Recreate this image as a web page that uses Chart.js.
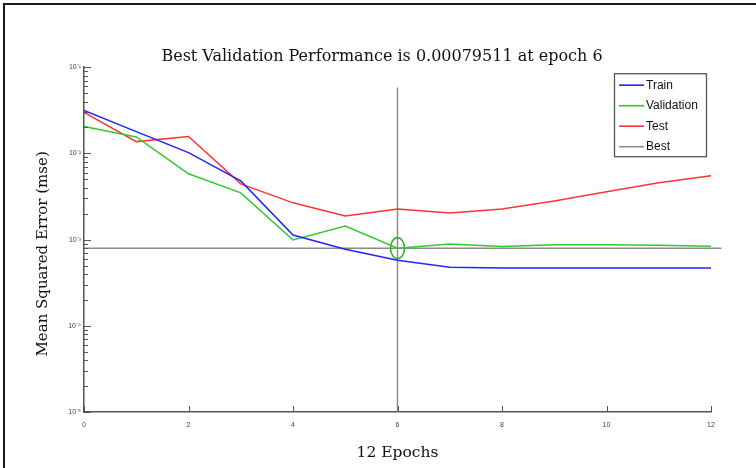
<!DOCTYPE html>
<html><head><meta charset="utf-8">
<script src="https://cdn.jsdelivr.net/npm/chart.js@4.4.0/dist/chart.umd.min.js"></script>
<style>
html,body{margin:0;padding:0;background:#fff;overflow:hidden;}
#wrap{position:relative;width:756px;height:468px;}
#frame{position:absolute;left:3px;top:3px;right:-10px;bottom:-10px;border-left:2px solid #1a1a1a;border-top:2px solid #1a1a1a;pointer-events:none;}
canvas{display:block}
</style></head><body>
<div id="wrap"><canvas id="c" width="756" height="468"></canvas><div id="frame"></div></div>
<script>
// ---- data ----
const epochs        = [0, 1, 2, 3, 4, 5, 6, 7, 8, 9, 10, 11, 12];
const trainMSE      = [0.0316, 0.0179, 0.0102, 0.0048, 0.00113, 0.000774, 0.000577, 0.000478, 0.000467, 0.000467, 0.000467, 0.000467, 0.000467];
const validationMSE = [0.0205, 0.0155, 0.0058, 0.00348, 0.00099, 0.00144, 0.00079511, 0.000887, 0.000832, 0.00087, 0.00087, 0.00086, 0.00084];
const testMSE       = [0.0299, 0.0137, 0.0157, 0.00443, 0.00267, 0.00188, 0.00227, 0.00204, 0.00227, 0.00281, 0.00358, 0.00456, 0.0055];
const bestEpoch = 6;
const bestPerf = 0.00079511;
const bestLineEnds = [0, 12.2];      // epochs spanned by the horizontal "Best" line
const bestVLineEnds = [1e-5, 0.058]; // mse spanned by the vertical "Best" line
const yMajorTicks = [1e-5, 1e-4, 1e-3, 1e-2, 1e-1];
const yTickLabels = ['10\u207B\u2075', '10\u207B\u2074', '10\u207B\u00B3', '10\u207B\u00B2', '10\u207B\u00B9'];
const xTicks = [0, 2, 4, 6, 8, 10, 12];
const seriesLabels = ['Train', 'Validation', 'Test', 'Best'];
const seriesColors = ['#2323ff', '#2ecb2e', '#ff3434', '#8a8a8a'];

const toPts = arr => arr.map((v, i) => ({x: epochs[i], y: v}));

// ellipse marker around the best validation point
const ell = document.createElement('canvas');
ell.width = 17; ell.height = 24;
(function(){const g = ell.getContext('2d'); g.strokeStyle = '#2aa52a'; g.lineWidth = 1.5;
  g.beginPath(); g.ellipse(8.5, 12, 7, 10.5, 0, 0, Math.PI*2); g.stroke();})();

const yTickValues = [];
yMajorTicks.forEach((m, i) => {
  if (i < yMajorTicks.length - 1) { for (let k = 1; k <= 9; k++) yTickValues.push({value: m*k, major: k === 1}); }
  else yTickValues.push({value: m, major: true});
});

const inwardTicks = {
  id: 'inwardTicks',
  afterDraw(chart) {
    const ctx = chart.ctx, a = chart.chartArea, ys = chart.scales.y, xs = chart.scales.x;
    ctx.save(); ctx.strokeStyle = '#555'; ctx.lineWidth = 1;
    ctx.beginPath();
    yTickValues.forEach(t => {
      const p = Math.round(ys.getPixelForValue(t.value)) + 0.5;
      ctx.moveTo(a.left, p); ctx.lineTo(a.left + (t.major ? 7 : 4), p);
    });
    xTicks.forEach(v => {
      const p = Math.round(xs.getPixelForValue(v)) + 0.5;
      ctx.moveTo(p, a.bottom); ctx.lineTo(p, a.bottom - 6);
    });
    ctx.stroke();
    // legend box
    const w = 92, h = 83, L = a.right - 5 - w, T = a.top + 6;
    ctx.fillStyle = '#fff'; ctx.fillRect(L, T, w, h);
    ctx.strokeStyle = '#555'; ctx.lineWidth = 1.3; ctx.strokeRect(L + 0.5, T + 0.5, w, h);
    ctx.font = '12px "Liberation Sans", Arial, sans-serif'; ctx.textBaseline = 'middle'; ctx.fillStyle = '#111';
    seriesLabels.forEach((lab, i) => {
      const yy = T + 12 + i * 20.5;
      ctx.strokeStyle = seriesColors[i]; ctx.lineWidth = 1.6;
      ctx.beginPath(); ctx.moveTo(L + 5, yy); ctx.lineTo(L + 30, yy); ctx.stroke();
      ctx.fillText(lab, L + 32, yy);
    });
    ctx.restore();
  }
};

const serif = '"DejaVu Serif", serif';
new Chart(document.getElementById('c'), {
  type: 'line',
  data: {
    datasets: [
      {label: seriesLabels[0], data: toPts(trainMSE), borderColor: seriesColors[0], borderWidth: 1.5, pointRadius: 0, tension: 0},
      {label: seriesLabels[1], data: toPts(validationMSE), borderColor: seriesColors[1], borderWidth: 1.5, pointRadius: 0, tension: 0},
      {label: seriesLabels[2], data: toPts(testMSE), borderColor: seriesColors[2], borderWidth: 1.5, pointRadius: 0, tension: 0},
      {label: seriesLabels[3], data: bestLineEnds.map(x => ({x, y: bestPerf})), borderColor: seriesColors[3], borderWidth: 1.4, pointRadius: 0, clip: false, order: 5},
      {label: 'best-v', data: bestVLineEnds.map(y => ({x: bestEpoch, y})), borderColor: seriesColors[3], borderWidth: 1.4, pointRadius: 0, order: 5},
      {label: 'best-pt', data: [{x: bestEpoch, y: bestPerf}], showLine: false, pointStyle: ell, pointRadius: 10, order: 0}
    ]
  },
  options: {
    responsive: false, animation: false,
    layout: {padding: {left: 8, right: 0, top: 0, bottom: 0}},
    plugins: {
      legend: {display: false}, tooltip: {enabled: false},
      title: {display: true, text: 'Best Validation Performance is ' + bestPerf + ' at epoch ' + bestEpoch,
        color: '#111', font: {family: serif, size: 16, weight: 'normal'}, padding: {top: 47, bottom: 1}}
    },
    scales: {
      x: {type: 'linear', min: 0, max: 12,
        afterBuildTicks: s => { s.ticks = xTicks.map(v => ({value: v})); },
        afterFit: s => { s.height = 56; },
        grid: {display: false, drawTicks: false},
        border: {display: true, color: '#555', width: 1.5},
        ticks: {color: '#444', font: {family: '"Liberation Sans", Arial', size: 7}, padding: 9, maxRotation: 0, autoSkip: false},
        title: {display: true, text: '12 Epochs', color: '#111', font: {family: serif, size: 15.5, weight: 'normal'}, padding: {top: 0, bottom: 6}}
      },
      y: {type: 'logarithmic', min: 1e-5, max: 1e-1,
        afterBuildTicks: s => { s.ticks = yTickValues.map(t => ({value: t.value, major: t.major})); },
        afterFit: s => { s.width = 76; },
        grid: {display: false, drawTicks: false},
        border: {display: true, color: '#555', width: 1.5},
        ticks: {color: '#444', font: {family: '"Liberation Sans", Arial', size: 7}, padding: 3, autoSkip: false,
          callback: v => { const i = yMajorTicks.findIndex(m => Math.abs(m - v) / m < 1e-6); return i >= 0 ? yTickLabels[i] : ''; }},
        title: {display: true, text: 'Mean Squared Error (mse)      ', color: '#111', font: {family: serif, size: 15, weight: 'normal'}, padding: {top: 26, bottom: 0}}
      },
      yr: {type: 'linear', position: 'right', display: true,
        afterFit: s => { s.width = 45; },
        grid: {display: false, drawTicks: false}, border: {display: false}, ticks: {display: false}}
    }
  },
  plugins: [inwardTicks]
});
</script>
</body></html>
